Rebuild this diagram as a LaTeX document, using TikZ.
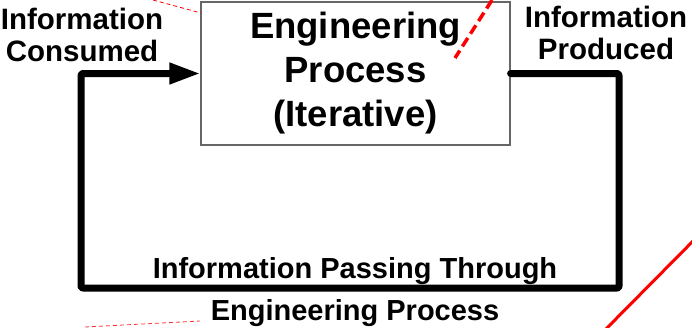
\documentclass[tikz,border=0pt]{standalone}
\usepackage{fontspec}
\setmainfont{Liberation Sans}
\usetikzlibrary{arrows.meta}
\begin{document}
\begin{tikzpicture}[x=1pt,y=-1pt,
  procbox/.style={draw=black!60, line width=1.2pt, minimum width=309pt, minimum height=143pt, inner sep=0pt, align=center, font=\bfseries\fontsize{36.5}{44}\selectfont},
  sidelabel/.style={inner sep=0pt, anchor=north, align=center, font=\bfseries\fontsize{29.5}{31.5}\selectfont},
  bottomlabel/.style={inner sep=0pt, anchor=north, align=center, font=\bfseries\fontsize{29}{42}\selectfont},
  flow/.style={line width=7pt, line cap=round, line join=round, rounded corners=2pt},
  thindash/.style={red, line width=0.8pt, dash pattern=on 4pt off 3pt},
  thickdash/.style={red, line width=3.5pt, dash pattern=on 10pt off 5pt},
  redline/.style={red, line width=3pt}]
\useasboundingbox (0,0) rectangle (692,327);
\fill[white] (0,0) rectangle (692,327);
\node[procbox] (proc) at (355.5,73.5) {Engineering\\Process\\(Iterative)};
\node[sidelabel] (cons) at (82,8) {Information\\Consumed};
\node[sidelabel] (prod) at (606,6) {Information\\Produced};
\node[bottomlabel] (pass) at (355,257) {Information Passing Through\\Engineering Process};
\coordinate (rb) at (619,288);
\coordinate (lb) at (81,288);
\draw[flow, -{Triangle[length=31pt,width=20pt]}] (proc.east) -| (rb) -- (lb) |- (proc.west);
\draw[thindash] (153,0) -- (201,13);
\draw[thickdash] (492,0) -- (455,58);
\draw[thindash, red!80] (85,327) -- (200,321);
\draw[redline] (697,237) -- (603,332);
\end{tikzpicture}
\end{document}
